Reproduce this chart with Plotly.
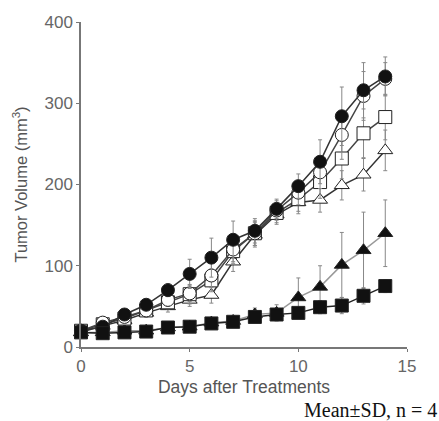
import plotly.graph_objects as go

days = list(range(15))
fc = [20, 25, 40, 52, 70, 90, 110, 132, 143, 170, 198, 228, 284, 316, 333]
fc_sd = [4, 5, 6, 6, 8, 18, 24, 23, 15, 12, 15, 27, 36, 34, 24]
oc = [20, 30, 37, 45, 58, 66, 88, 120, 140, 168, 190, 215, 261, 309, 330]
oc_sd = [3, 5, 5, 6, 8, 10, 15, 15, 15, 12, 15, 20, 30, 30, 20]
os_ = [20, 28, 35, 45, 55, 65, 82, 118, 140, 165, 182, 203, 232, 263, 283]
os_sd = [3, 4, 5, 6, 8, 12, 14, 15, 15, 12, 15, 20, 25, 30, 28]
ot = [18, 26, 33, 42, 50, 58, 64, 105, 138, 163, 178, 181, 199, 212, 242]
ot_sd = [3, 4, 5, 5, 7, 8, 10, 12, 15, 12, 14, 15, 18, 20, 25]
ft = [18, 18, 20, 20, 24, 25, 30, 32, 40, 42, 61, 74, 101, 119, 140]
ft_sd = [3, 3, 4, 4, 5, 5, 6, 6, 8, 10, 24, 26, 40, 47, 41]
fs = [18, 17, 18, 19, 24, 25, 29, 31, 37, 40, 42, 49, 51, 63, 75]
fs_sd = [3, 3, 4, 4, 5, 5, 5, 6, 6, 6, 6, 8, 10, 10, 8]

series = [
    (ft, ft_sd, "triangle-up", "#111", "#999"),
    (ot, ot_sd, "triangle-up", "white", "#333"),
    (os_, os_sd, "square", "white", "#444"),
    (oc, oc_sd, "circle", "white", "#444"),
    (fc, fc_sd, "circle", "#111", "#333"),
    (fs, fs_sd, "square", "#111", "#222"),
]

fig = go.Figure()
for vals, sd, sym, fill, lc in series:
    fig.add_trace(go.Scatter(
        x=days, y=vals, mode="lines+markers",
        line=dict(color=lc, width=1.5),
        marker=dict(symbol=sym, size=13, color=fill,
                    line=dict(color="#222", width=1)),
        error_y=dict(type="data", array=sd, visible=True,
                     color="#888", thickness=1, width=2),
        showlegend=False, cliponaxis=False,
    ))

fig.update_layout(
    width=439, height=421,
    margin=dict(l=81, r=32, t=22, b=74),
    paper_bgcolor="white", plot_bgcolor="white",
    font=dict(family="Liberation Sans, Arial, sans-serif", color="#666", size=17),
    xaxis=dict(range=[0, 15], tickvals=[0, 5, 10, 15], showline=True,
               linecolor="#777", linewidth=1.5, ticks="outside", ticklen=3,
               tickcolor="#777", showgrid=False, zeroline=False,
               title=dict(text="Days after Treatments", font=dict(size=17.5, color="#555"),
                          standoff=6)),
    yaxis=dict(range=[0, 400], tickvals=[0, 100, 200, 300, 400], showline=True,
               linecolor="#777", linewidth=1.5, ticks="outside", ticklen=3,
               tickcolor="#777", showgrid=False, zeroline=False,
               title=dict(text="Tumor Volume (mm<sup>3</sup>)",
                          font=dict(size=16.5, color="#555"), standoff=13)),
)

fig.add_annotation(text="Mean±SD, n = 4", xref="paper", yref="paper",
                   x=1.0, y=-0.194, xanchor="right", yanchor="middle",
                   xshift=32, showarrow=False,
                   font=dict(family="Liberation Serif, Times New Roman, serif",
                             size=20, color="#111"))

fig.write_html("out.html")
